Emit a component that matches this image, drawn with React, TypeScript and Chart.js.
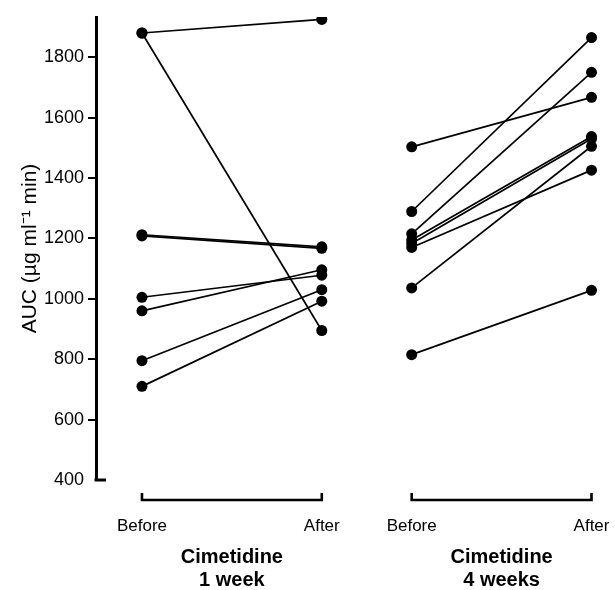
import React, { useEffect, useRef } from "react";
import { Chart, registerables } from "chart.js";

Chart.register(...registerables);

// Category positions on the x scale (Before / After for each regimen)
const xPositions = [0, 1, 1.5, 2.5];
const tickLabels = ["Before", "After", "Before", "After"];
const groupTitles = [
  ["Cimetidine", "1 week"],
  ["Cimetidine", "4 weeks"],
];
const yTicks = [400, 600, 800, 1000, 1200, 1400, 1600, 1800];

// AUC values (µg ml-1 min)
const week1Before = [1880, 1880, 1212, 1208, 1005, 960, 795, 710];
const week1After = [1925, 895, 1172, 1167, 1078, 1096, 1030, 992];
const week4Before = [1503, 1289, 1215, 1195, 1183, 1170, 1036, 815];
const week4After = [1667, 1865, 1750, 1537, 1530, 1426, 1505, 1028];

const FONT = "'Liberation Sans', Arial, Helvetica, sans-serif";

function buildDatasets() {
  const sets: any[] = [];
  const add = (b: number[], a: number[], x0: number, x1: number) => {
    b.forEach((v, i) => {
      sets.push({
        data: [
          { x: x0, y: v },
          { x: x1, y: a[i] },
        ],
        borderColor: "#000",
        backgroundColor: "#000",
        borderWidth: 1.7,
        pointRadius: 5.5,
        pointBackgroundColor: "#000",
        pointBorderColor: "#000",
        pointBorderWidth: 0,
        showLine: true,
      });
    });
  };
  add(week1Before, week1After, xPositions[0], xPositions[1]);
  add(week4Before, week4After, xPositions[2], xPositions[3]);
  return sets;
}

const bracketPlugin = {
  id: "brackets",
  afterDraw(chart: any) {
    const { ctx, chartArea, scales } = chart;
    const xs = scales.x;
    const bottom = chartArea.bottom;
    ctx.save();
    // small right-pointing tick at the foot of the y axis
    ctx.strokeStyle = "#000";
    ctx.lineWidth = 3;
    ctx.beginPath();
    ctx.moveTo(chartArea.left - 1.5, bottom);
    ctx.lineTo(chartArea.left + 10, bottom);
    ctx.stroke();

    for (let g = 0; g < 2; g++) {
      const x0 = xs.getPixelForValue(xPositions[g * 2]);
      const x1 = xs.getPixelForValue(xPositions[g * 2 + 1]);
      const y = bottom + 20;
      ctx.lineWidth = 2.6;
      ctx.beginPath();
      ctx.moveTo(x0, y - 7);
      ctx.lineTo(x0, y);
      ctx.lineTo(x1, y);
      ctx.lineTo(x1, y - 7);
      ctx.stroke();

      ctx.fillStyle = "#000";
      ctx.font = `bold 20px ${FONT}`;
      ctx.textAlign = "center";
      ctx.textBaseline = "middle";
      const cx = (x0 + x1) / 2;
      ctx.fillText(groupTitles[g][0], cx, bottom + 77);
      ctx.fillText(groupTitles[g][1], cx, bottom + 100);
    }
    ctx.restore();
  },
};

export default function App() {
  const ref = useRef<HTMLCanvasElement | null>(null);

  useEffect(() => {
    if (!ref.current) return;
    const chart = new Chart(ref.current, {
      type: "scatter",
      data: { datasets: buildDatasets() },
      plugins: [bracketPlugin],
      options: {
        animation: false,
        responsive: false,
        layout: { padding: { top: 17, right: 5, left: 0, bottom: 0 } },
        plugins: {
          legend: { display: false },
          tooltip: { enabled: false },
        },
        scales: {
          x: {
            type: "linear",
            min: -0.2556,
            max: 2.6,
            afterFit(scale: any) {
              scale.height = 110;
              scale.paddingLeft = 0;
              scale.paddingRight = 0;
            },
            afterBuildTicks(scale: any) {
              scale.ticks = xPositions.map((v) => ({ value: v }));
            },
            grid: { display: false, drawTicks: false },
            border: { display: false },
            ticks: {
              autoSkip: false,
              maxRotation: 0,
              padding: 36,
              color: "#000",
              font: { family: FONT, size: 17 },
              callback: (_v: any, i: number) => tickLabels[i],
            },
          },
          y: {
            type: "linear",
            min: 400,
            max: 1933,
            afterFit(scale: any) {
              scale.width = 96;
            },
            afterBuildTicks(scale: any) {
              scale.ticks = yTicks.map((v) => ({ value: v }));
            },
            border: { display: true, color: "#000", width: 3 },
            grid: {
              drawOnChartArea: false,
              drawTicks: true,
              tickLength: 8,
              lineWidth: 2,
              color: (c: any) =>
                c.tick && c.tick.value === 400 ? "rgba(0,0,0,0)" : "#000",
            },
            ticks: {
              padding: 4,
              color: "#000",
              font: { family: FONT, size: 18 },
              callback: (v: any) => String(v),
            },
            title: {
              display: true,
              text: "AUC (µg ml⁻¹ min)",
              color: "#000",
              font: { family: FONT, size: 21 },
              padding: { top: 18, bottom: 0 },
            },
          },
        },
      } as any,
    });
    return () => chart.destroy();
  }, []);

  return (
    <div style={{ position: "absolute", left: 0, top: 0, width: 615, height: 590, background: "#fff" }}>
      <canvas ref={ref} width={615} height={590} style={{ width: 615, height: 590 }} />
    </div>
  );
}
